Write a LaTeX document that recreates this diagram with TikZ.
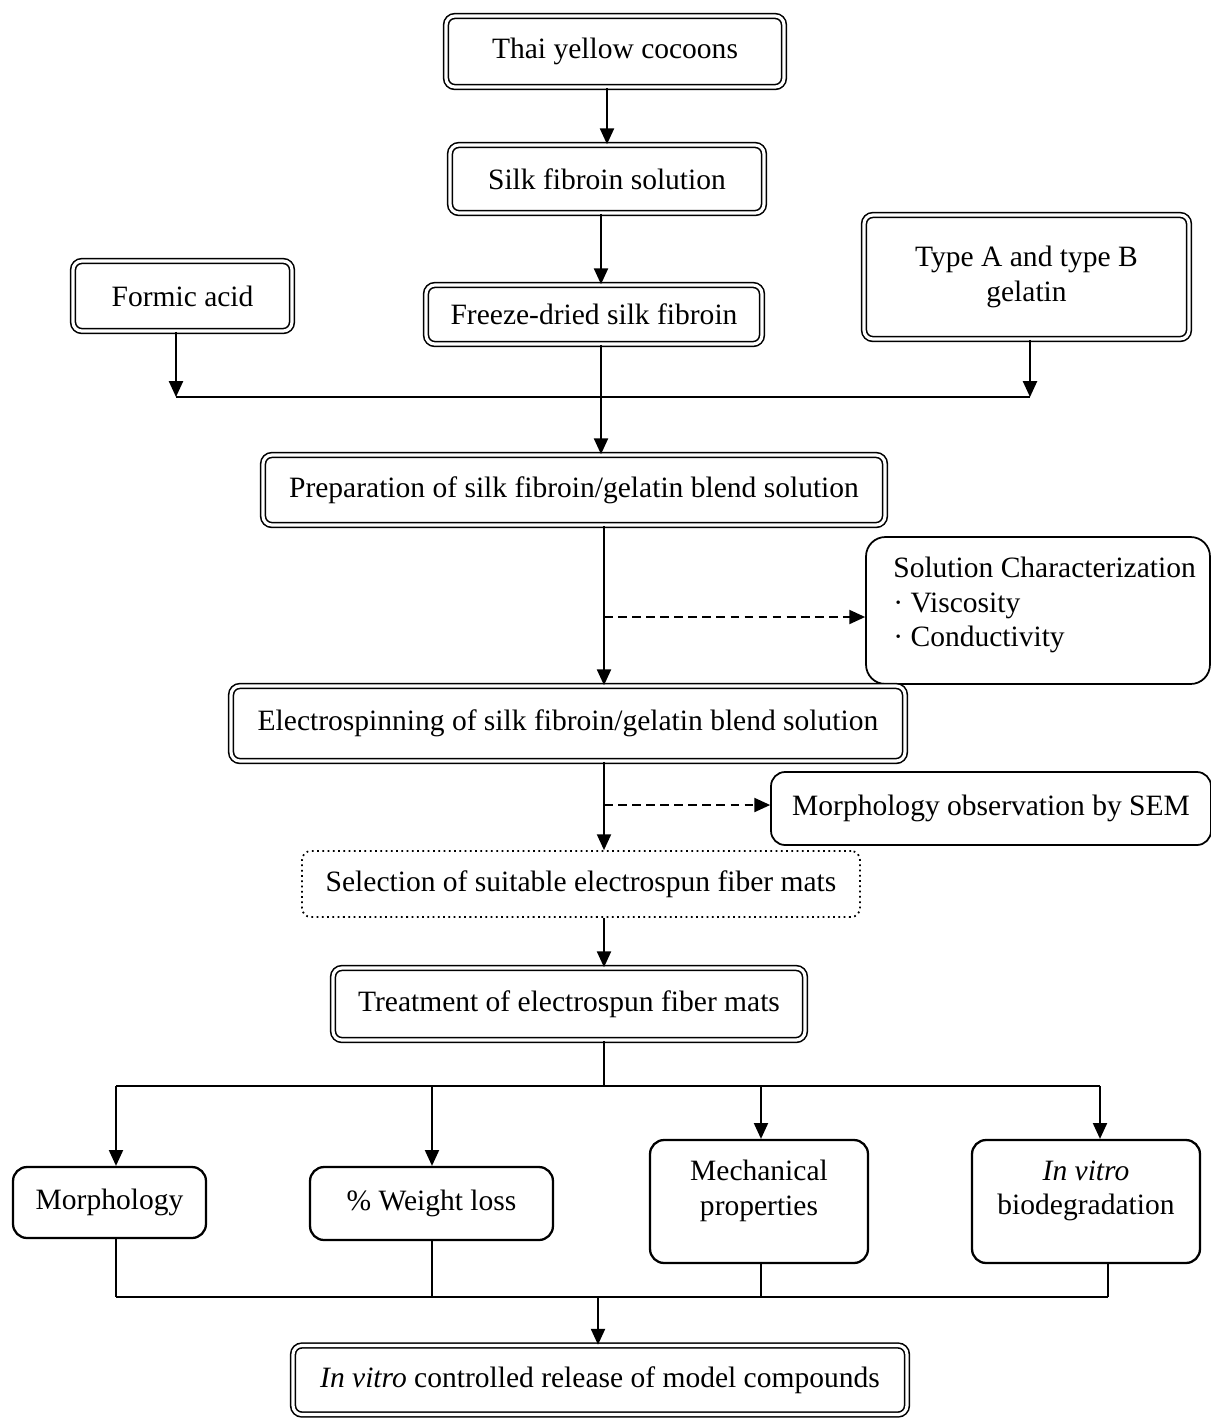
\documentclass[tikz,border=0pt]{standalone}
\usepackage{fontspec}
\setmainfont{Liberation Serif}
\usetikzlibrary{arrows.meta}
\begin{document}
\begin{tikzpicture}[x=0.02cm,y=-0.02cm,
  every node/.style={font=\fontsize{16.8}{19.5}\selectfont},
  dbox/.style={draw, double, double distance=1.8pt, line width=0.9pt, rounded corners=5pt, align=center, inner sep=0pt},
  sbox/.style={draw, line width=1.3pt, rounded corners=8pt, align=center, inner sep=0pt},
  arr/.style={-{Triangle[length=9pt,width=8pt]}, line width=1pt},
  dashedarr/.style={arr, dashed, dash pattern=on 5pt off 3pt},
  conn/.style={line width=1pt}]
\useasboundingbox (0,0) rectangle (1211,1418);

% top chain
\node[dbox, minimum width=6.76cm, minimum height=1.42cm] (thai) at (615,51.5) {Thai yellow cocoons};
\node[dbox, minimum width=6.28cm, minimum height=1.36cm] (silk) at (607,179) {Silk fibroin solution};
\node[dbox, minimum width=4.38cm, minimum height=1.40cm] (formic) at (182.5,296) {Formic acid};
\node[dbox, minimum width=6.72cm, minimum height=1.18cm] (freeze) at (594,314.5) {Freeze-dried silk fibroin};
\node[dbox, minimum width=6.50cm, minimum height=2.48cm] (gelatin) at (1026.5,277) {Type A and type B\\gelatin};
\node[dbox, minimum width=12.44cm, minimum height=1.40cm] (prep) at (574,490) {Preparation of silk fibroin/gelatin blend solution};
\node[sbox, rounded corners=11pt, line width=1pt, minimum width=6.88cm, minimum height=2.94cm] (sol) at (1038,610.5) {};
\node[align=left, anchor=west, inner sep=0pt] (soltext) at (893,605) {Solution Characterization\\· Viscosity\\· Conductivity};
\node[dbox, minimum width=13.48cm, minimum height=1.50cm] (electro) at (568,723.5) {Electrospinning of silk fibroin/gelatin blend solution};
\node[sbox, line width=1pt, minimum width=8.8cm, minimum height=1.46cm] (sem) at (991,808.5) {Morphology observation by SEM};
\node[draw, dotted, line width=1pt, rounded corners=5pt, minimum width=11.16cm, minimum height=1.32cm] (sel) at (581,884) {Selection of suitable electrospun fiber mats};
\node[dbox, minimum width=9.44cm, minimum height=1.44cm] (treat) at (569,1004) {Treatment of electrospun fiber mats};

% bottom row
\node[sbox, minimum width=3.86cm, minimum height=1.42cm] (morph) at (109.5,1202.5) {Morphology};
\node[sbox, minimum width=4.86cm, minimum height=1.46cm] (weight) at (431.5,1203.5) {\% Weight loss};
\node[sbox, minimum width=4.36cm, minimum height=2.46cm, text depth=0.55cm] (mech) at (759,1201.5) {Mechanical\\properties};
\node[sbox, minimum width=4.56cm, minimum height=2.46cm, text depth=0.55cm] (bio) at (1086,1201.5) {\textit{In vitro}\\biodegradation};
\node[dbox, minimum width=12.28cm, minimum height=1.38cm] (final) at (600,1380) {\textit{In vitro} controlled release of model compounds};

% junction coordinates
\coordinate (jl) at (176,397);
\coordinate (jr) at (1030,397);
\coordinate (jf) at (601,397);
\coordinate (sp) at (604,0);
\coordinate (d1) at (604,617);
\coordinate (d2) at (604,805);
\coordinate (b0) at (604,1086);
\coordinate (b1) at (116,1086);
\coordinate (b2) at (432,1086);
\coordinate (b3) at (761,1086);
\coordinate (b4) at (1100,1086);
\coordinate (c1) at (116,1297);
\coordinate (c2) at (432,1297);
\coordinate (c3) at (761,1297);
\coordinate (c4) at (1108,1297);
\coordinate (c0) at (598,1297);

% connectors
\draw[arr] (thai.south -| silk.north) -- (silk.north);
\draw[arr] (silk.south -| jf) -- (jf |- freeze.north);
\draw[arr] (formic.south -| jl) -- (jl);
\draw[arr] (gelatin.south -| jr) -- (jr);
\draw[conn] (jl) -- (jr);
\draw[arr] (freeze.south -| jf) -- (jf |- prep.north);
\draw[arr] (prep.south -| sp) -- (sp |- electro.north);
\draw[dashedarr] (d1) -- (d1 -| sol.west);
\draw[arr] (electro.south -| sp) -- (sp |- sel.north);
\draw[dashedarr] (d2) -- (d2 -| sem.west);
\draw[arr] (sel.south -| sp) -- (sp |- treat.north);
\draw[conn] (treat.south -| sp) -- (b0);
\draw[conn] (b1) -- (b4);
\draw[arr] (b1) -- (b1 |- morph.north);
\draw[arr] (b2) -- (b2 |- weight.north);
\draw[arr] (b3) -- (b3 |- mech.north);
\draw[arr] (b4) -- (b4 |- bio.north);
\draw[conn] (morph.south -| c1) -- (c1);
\draw[conn] (weight.south -| c2) -- (c2);
\draw[conn] (mech.south -| c3) -- (c3);
\draw[conn] (bio.south -| c4) -- (c4);
\draw[conn] (c1) -- (c4);
\draw[arr] (c0) -- (c0 |- final.north);
\end{tikzpicture}
\end{document}
